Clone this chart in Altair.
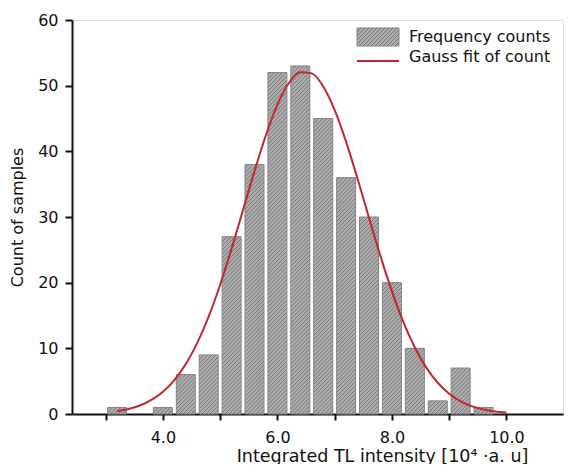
import altair as alt
import pandas as pd

# Histogram bins (centers, in 10^4 a.u.) and counts
bin_centers = [3.2, 3.6, 4.0, 4.4, 4.8, 5.2, 5.6, 6.0, 6.4, 6.8, 7.2, 7.6, 8.0, 8.4, 8.8, 9.2, 9.6]
counts = [1, 0, 1, 6, 9, 27, 38, 52, 53, 45, 36, 30, 20, 10, 2, 7, 1]

# Gauss fit curve
fit_x = [3.2, 3.4, 3.6, 3.8, 4.0, 4.2, 4.4, 4.6, 4.8, 5.0, 5.2, 5.4, 5.6, 5.8, 6.0, 6.2,
         6.4, 6.6, 6.8, 7.0, 7.2, 7.4, 7.6, 7.8, 8.0, 8.2, 8.4, 8.6, 8.8, 9.0, 9.2, 9.4,
         9.6, 9.8, 10.0]
fit_y = [0.43, 0.77, 1.30, 2.14, 3.38, 5.17, 7.61, 10.83, 14.87, 19.69, 25.18, 31.07,
         36.98, 42.49, 47.12, 50.41, 52.05, 51.87, 49.88, 46.28, 41.45, 35.82, 29.87,
         24.04, 18.67, 13.99, 10.12, 7.06, 4.76, 3.09, 1.94, 1.17, 0.69, 0.39, 0.21]

legend_labels = ["Frequency counts", "Gauss fit of count"]

FONT = "DejaVu Sans"
BAR = "#adadad"
HATCH = "#767676"
BAR_STROKE = "#858585"
RED = "#c0282d"
INK = "#111111"

# styling constants for the hatch (bar half-width in x units, 45-degree rise and period in y units)
HW = 0.1625
RISE = 2.893
PERIOD = 0.62

bars_df = pd.DataFrame({"center": bin_centers, "count": counts})
fit_df = pd.DataFrame({"x": fit_x, "y": fit_y})
one = pd.DataFrame({"k": [0]})

x_scale = alt.Scale(domain=[2.5, 10.9], nice=False, zero=False)
y_scale = alt.Scale(domain=[0, 60], nice=False)

x_axis = alt.Axis(
    title="Integrated TL intensity [10\u2074 \u00b7a. u]",
    values=[3, 4, 5, 6, 7, 8, 9, 10],
    labelExpr="datum.value % 2 == 0 ? format(datum.value, '.1f') : ''",
    grid=False, tickSize=6, tickWidth=2, domainWidth=2, domainColor=INK,
    tickColor=INK, labelFontSize=16, titleFontSize=17.5, titleFontWeight="normal",
    labelColor=INK, titleColor=INK, labelPadding=9, titlePadding=2,
    titleX=310, titleAlign="center",
    labelFont=FONT, titleFont=FONT,
)
y_axis = alt.Axis(
    title="Count of samples",
    values=list(range(0, 61, 5)),
    labelExpr="datum.value % 10 == 0 ? datum.label : ''",
    grid=False, tickSize=7, tickWidth=2, domainWidth=2, domainColor=INK,
    tickColor=INK, labelFontSize=16, titleFontSize=16, titleFontWeight="normal",
    labelColor=INK, titleColor=INK, labelPadding=7, titlePadding=12,
    labelFont=FONT, titleFont=FONT,
)

base = alt.Chart(bars_df).transform_filter("datum.count > 0")

bars = base.mark_bar(
    size=19, color=BAR, stroke=BAR_STROKE, strokeWidth=1
).encode(
    x=alt.X("center:Q", scale=x_scale, axis=x_axis),
    y=alt.Y("count:Q", scale=y_scale, axis=y_axis),
)

hatch = base.transform_calculate(
    xl=f"datum.center - {HW}", xr=f"datum.center + {HW}",
    ks=f"sequence(0, ceil((datum.count + {RISE}) / {PERIOD}) + 1)",
).transform_flatten(["ks"]).transform_calculate(
    ya=f"-{RISE} + datum.ks * {PERIOD}",
).transform_calculate(
    yb=f"datum.ya + {RISE}",
).transform_filter(
    "datum.yb > 0 && datum.ya < datum.count"
).transform_calculate(
    xs=f"datum.ya < 0 ? datum.xl + (-datum.ya / {RISE}) * (datum.xr - datum.xl) : datum.xl",
    ys="max(datum.ya, 0)",
    xe=f"datum.yb > datum.count ? datum.xl + ((datum.count - datum.ya) / {RISE}) * (datum.xr - datum.xl) : datum.xr",
    ye="min(datum.yb, datum.count)",
).mark_rule(color=HATCH, strokeWidth=1).encode(
    x=alt.X("xs:Q", scale=x_scale),
    x2="xe:Q",
    y=alt.Y("ys:Q", scale=y_scale),
    y2="ye:Q",
)

curve = alt.Chart(fit_df).mark_line(
    color=RED, strokeWidth=2, interpolate="monotone"
).encode(
    x=alt.X("x:Q", scale=x_scale),
    y=alt.Y("y:Q", scale=y_scale),
)

# legend (pixel positions inside the plot area)
leg_rect = alt.Chart(one).mark_rect(color=BAR, stroke=BAR_STROKE, strokeWidth=1).encode(
    x=alt.value(285), x2=alt.value(327), y=alt.value(8), y2=alt.value(26)
)
leg_hatch = alt.Chart(one).transform_calculate(
    ks="sequence(0, 16)"
).transform_flatten(["ks"]).transform_calculate(
    xa="285 - 18 + datum.ks * 4",
).transform_calculate(
    px1="max(datum.xa, 285)", py1="26 - (max(datum.xa, 285) - datum.xa)",
    px2="min(datum.xa + 18, 327)", py2="8 + (datum.xa + 18 - min(datum.xa + 18, 327))",
).transform_filter("datum.px2 > datum.px1").mark_rule(color=HATCH, strokeWidth=1).encode(
    x=alt.X("px1:Q", scale=None), x2="px2:Q",
    y=alt.Y("py1:Q", scale=None), y2="py2:Q",
)
leg_line = alt.Chart(one).mark_rule(color=RED, strokeWidth=2).encode(
    x=alt.value(285), x2=alt.value(327), y=alt.value(41)
)
leg_t1 = alt.Chart(one).mark_text(
    align="left", baseline="middle", fontSize=16, font=FONT, color=INK
).encode(x=alt.value(337), y=alt.value(17), text=alt.value(legend_labels[0]))
leg_t2 = alt.Chart(one).mark_text(
    align="left", baseline="middle", fontSize=16, font=FONT, color=INK
).encode(x=alt.value(337), y=alt.value(37), text=alt.value(legend_labels[1]))

chart = alt.layer(bars, hatch, curve, leg_rect, leg_hatch, leg_line, leg_t1, leg_t2).properties(
    width=491, height=394,
    autosize=alt.AutoSizeParams(type="none"),
    padding={"left": 64, "top": 12, "right": 1, "bottom": 50},
).configure_view(stroke=None).configure(background="white")

chart.save("out.html", embed_options={"renderer": "svg", "actions": False})
